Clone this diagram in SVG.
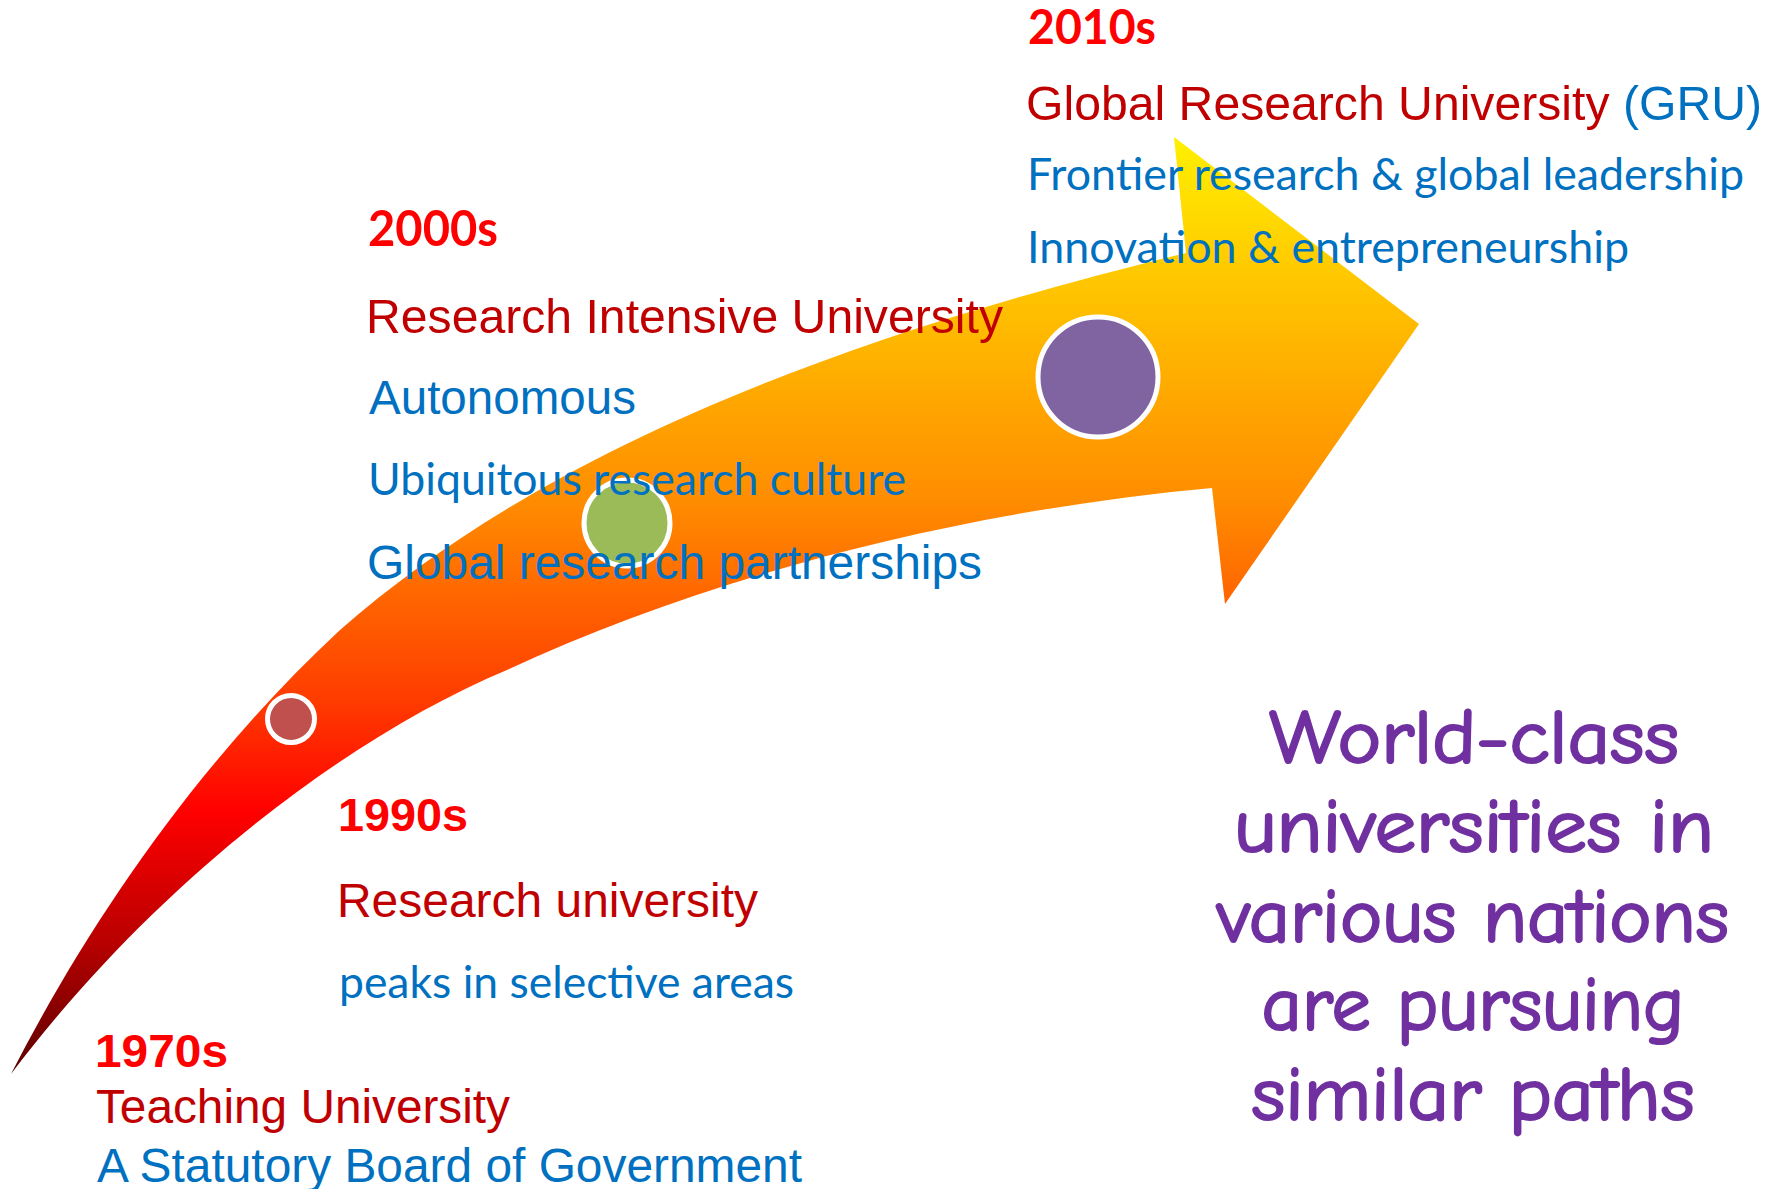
<svg xmlns="http://www.w3.org/2000/svg" width="1775" height="1189" viewBox="0 0 1775 1189">
  <defs>
    <linearGradient id="arrowGrad" gradientUnits="userSpaceOnUse" x1="0" y1="137" x2="0" y2="1074">
      <stop offset="0" stop-color="#FFF000"/>
      <stop offset="0.17" stop-color="#FFC200"/>
      <stop offset="0.39" stop-color="#FF8C00"/>
      <stop offset="0.6" stop-color="#FF3C00"/>
      <stop offset="0.72" stop-color="#FF0000"/>
      <stop offset="0.86" stop-color="#B80000"/>
      <stop offset="1" stop-color="#5A0000"/>
    </linearGradient>
    <style>
      .yr { font-family: "Lato", "Carlito", "Liberation Sans", sans-serif; font-weight: bold; fill: #FF0000; }
      .yra { font-family: "Liberation Sans", Arial, sans-serif; font-weight: bold; fill: #FF0000; font-size: 46px; }
      .ar { font-family: "Liberation Sans", Arial, sans-serif; font-size: 48px; }
      .cal { font-family: "Lato", "Carlito", "Liberation Sans", sans-serif; font-size: 44px; fill: #0070C0; }
      .dred { fill: #C00000; }
      .blue { fill: #0070C0; }
      .dot { stroke: #FFFFFF; stroke-width: 5; }
      .note { font-family: "Comic Sans MS", "Comic Neue", "Open Sans", sans-serif; font-size: 76px; fill: #7030A0; stroke: #7030A0; stroke-width: 2.2; stroke-linejoin: round; text-anchor: middle; }
    </style>
  </defs>
  <rect width="1775" height="1189" fill="#FFFFFF"/>

  <g id="connectors">
    <path id="arrow" fill="url(#arrowGrad)" d="M 11 1074 C 90 920 200 760 340 630 C 525 468 795 348 1186 253 L 1174 137 L 1419 324 L 1225 604 L 1212 488 C 950 512 700 580 507 670 C 340 740 150 890 11 1074 Z"/>
  </g>

  <g id="node-1990s-dot"><circle class="dot" cx="291" cy="719" r="23.5" fill="#C0504D"/></g>
  <g id="node-2000s-dot"><circle class="dot" cx="627" cy="523" r="43" fill="#9BBB59"/></g>
  <g id="node-2010s-dot"><circle class="dot" cx="1098" cy="377" r="60" fill="#8064A2"/></g>

  <g id="node-2010s">
    <text class="yr" x="1028" y="44" font-size="47" textLength="128" lengthAdjust="spacingAndGlyphs">2010s</text>
    <text class="ar" x="1026" y="120" textLength="736" lengthAdjust="spacingAndGlyphs"><tspan class="dred">Global Research University </tspan><tspan class="blue">(GRU)</tspan></text>
    <text class="cal" x="1027" y="190" textLength="717" lengthAdjust="spacingAndGlyphs">Frontier research &amp; global leadership</text>
    <text class="cal" x="1027" y="263" textLength="602" lengthAdjust="spacingAndGlyphs">Innovation &amp; entrepreneurship</text>
  </g>

  <g id="node-2000s">
    <text class="yr" x="368" y="246" font-size="49" textLength="130" lengthAdjust="spacingAndGlyphs">2000s</text>
    <text class="ar dred" x="366" y="333" textLength="637" lengthAdjust="spacingAndGlyphs">Research Intensive University</text>
    <text class="ar blue" x="369" y="414" textLength="267" lengthAdjust="spacingAndGlyphs">Autonomous</text>
    <text class="cal" x="368" y="495" textLength="538" lengthAdjust="spacingAndGlyphs">Ubiquitous research culture</text>
    <text class="ar blue" x="367" y="579" textLength="615" lengthAdjust="spacingAndGlyphs">Global research partnerships</text>
  </g>

  <g id="node-1990s">
    <text class="yra" x="338" y="831" textLength="130" lengthAdjust="spacingAndGlyphs">1990s</text>
    <text class="ar dred" x="337" y="917" textLength="421" lengthAdjust="spacingAndGlyphs">Research university</text>
    <text class="cal" x="339" y="998" font-size="42" textLength="455" lengthAdjust="spacingAndGlyphs">peaks in selective areas</text>
  </g>

  <g id="node-1970s">
    <text class="yra" x="95" y="1067" textLength="133" lengthAdjust="spacingAndGlyphs">1970s</text>
    <text class="ar dred" x="96" y="1123" textLength="414" lengthAdjust="spacingAndGlyphs">Teaching University</text>
    <text class="ar blue" x="97" y="1182" textLength="705" lengthAdjust="spacingAndGlyphs">A Statutory Board of Government</text>
  </g>

  <g id="node-note">
    <text class="note" x="1474" y="763" textLength="410" lengthAdjust="spacingAndGlyphs">World-class</text>
    <text class="note" x="1474" y="852" textLength="480" lengthAdjust="spacingAndGlyphs">universities in</text>
    <text class="note" x="1473" y="942" textLength="512" lengthAdjust="spacingAndGlyphs">various nations</text>
    <text class="note" x="1473" y="1030" textLength="423" lengthAdjust="spacingAndGlyphs">are pursuing</text>
    <text class="note" x="1473" y="1120" textLength="443" lengthAdjust="spacingAndGlyphs">similar paths</text>
  </g>
</svg>
